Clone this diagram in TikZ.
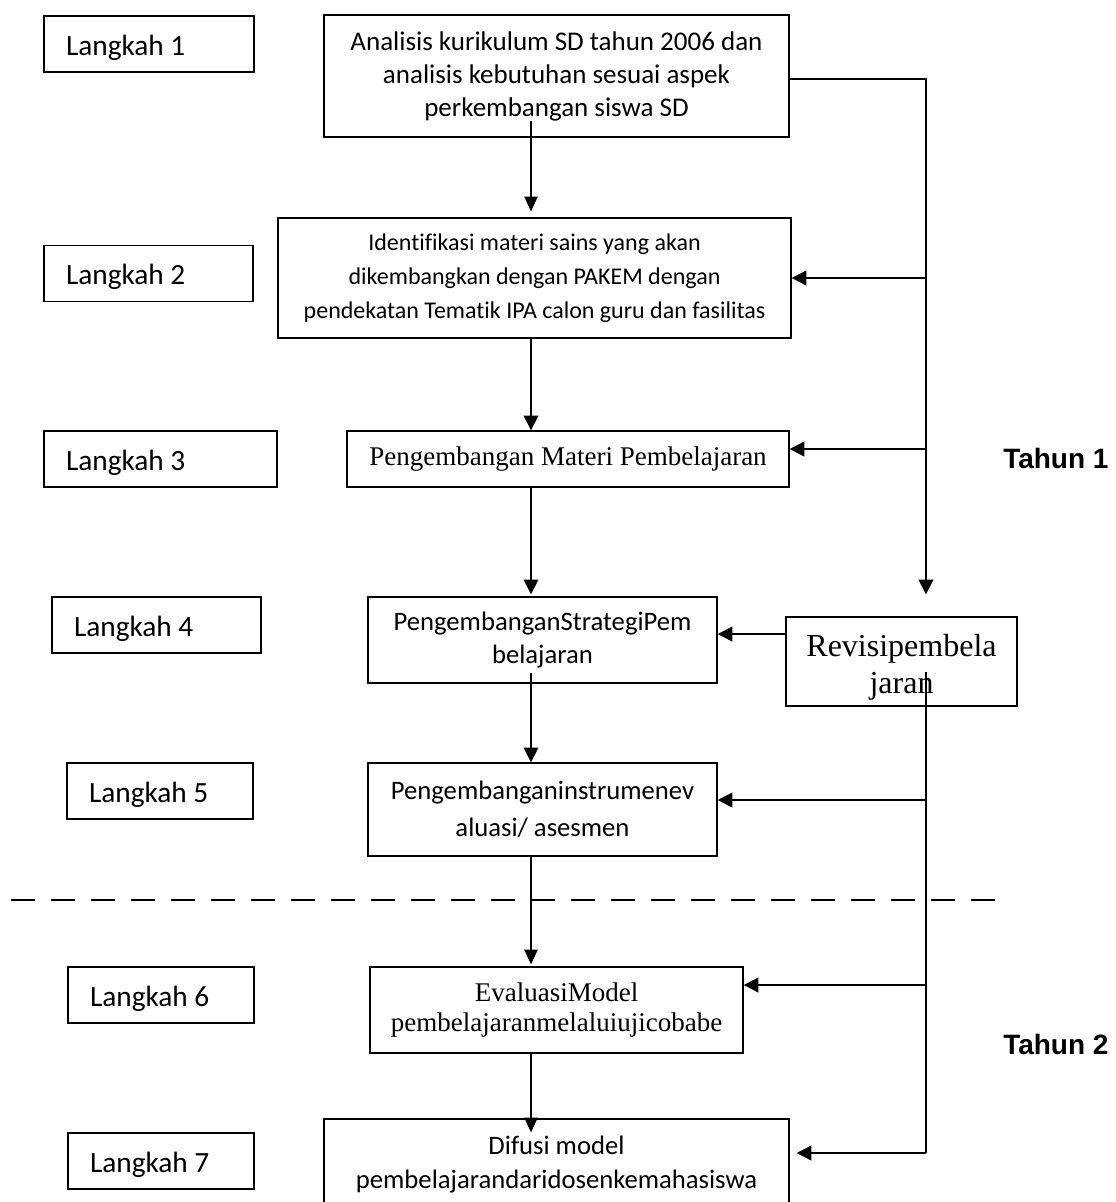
\documentclass[tikz,border=0pt]{standalone}
\usepackage{fontspec}
\setmainfont{Carlito}[Ligatures=NoCommon]
\newfontfamily\tnr{Liberation Serif}
\newfontfamily\arl{Liberation Sans}
\usetikzlibrary{arrows.meta}
\begin{document}
\begin{tikzpicture}[x=0.75pt,y=-0.75pt,
  box/.style={draw,line width=1pt,inner sep=0pt,align=center},
  lbox/.style={draw,line width=1pt,inner sep=0pt,align=flush left,minimum height=42pt,
    font=\fontsize{22}{25}\selectfont,text height=17.2pt,text depth=0pt},
  tahun/.style={font=\arl\bfseries\fontsize{21}{25}\selectfont,anchor=west,inner sep=0pt},
  arr/.style={line width=1.1pt,-{Triangle[length=11pt,width=11pt]}},
  harr/.style={line width=1.5pt,-{Triangle[length=11pt,width=11pt]}},
  thinarr/.style={line width=0.8pt,-{Triangle[length=11pt,width=10pt]}},
  plain/.style={line width=1.1pt},
  dashline/.style={line width=2.2pt,dash pattern=on 18pt off 12pt}]
\useasboundingbox (0,0) rectangle (1116,1202);

% step labels
\node[lbox,minimum width=157.5pt,text width=124.5pt] (L1) at (149,44) {Langkah 1};
\node[lbox,minimum width=156.75pt,text width=123.75pt] (L2) at (148.5,273.5) {Langkah 2};
\node[lbox,minimum width=174.75pt,text width=141.75pt] (L3) at (160.5,459) {Langkah 3};
\node[lbox,minimum width=156.75pt,text width=123.75pt] (L4) at (156.5,625) {Langkah 4};
\node[lbox,minimum width=139.5pt,text width=106.5pt] (L5) at (160,791) {Langkah 5};
\node[lbox,minimum width=139.5pt,text width=106.5pt] (L6) at (161,995) {Langkah 6};
\node[lbox,minimum width=139.5pt,text width=106.5pt] (L7) at (161,1161) {Langkah 7};

% main boxes
\node[box,font=\fontsize{20.25}{24.75}\selectfont,minimum width=348.75pt,minimum height=91.5pt] (b1) at (556.5,76)
  {Analisis kurikulum SD tahun 2006 dan\\analisis kebutuhan sesuai aspek\\perkembangan siswa SD};
\node[box,font=\fontsize{18}{25.5}\selectfont,minimum width=384.75pt,minimum height=90pt] (b2) at (534.5,278)
  {Identifikasi materi sains yang akan\\dikembangkan dengan PAKEM dengan\\pendekatan Tematik IPA calon guru dan fasilitas};
\node[box,font=\tnr\fontsize{20.25}{24.75}\selectfont,minimum width=331.5pt,minimum height=42pt] (b3) at (568,459)
  {Pengembangan Materi Pembelajaran};
\node[box,font=\fontsize{20}{24.75}\selectfont,minimum width=261.75pt,minimum height=64.5pt] (b4) at (542.5,640)
  {PengembanganStrategiPem\\belajaran};
\node[box,font=\fontsize{20}{27.75}\selectfont,minimum width=261.75pt,minimum height=69.75pt] (b5) at (542.5,809.5)
  {Pengembanganinstrumenev\\aluasi/ asesmen};
\node[box,font=\tnr\fontsize{20.25}{22.5}\selectfont,minimum width=279.75pt,minimum height=64.5pt] (b6) at (556.5,1010)
  {EvaluasiModel\\pembelajaranmelaluiujicobabe};
\node[box,font=\fontsize{20}{25.5}\selectfont,minimum width=348.75pt,minimum height=69pt] (b7) at (556.5,1165)
  {Difusi model\\pembelajarandaridosenkemahasiswa};
\node[box,minimum width=173.25pt,minimum height=66.75pt] (rv) at (901.5,661.5) {};
\node[align=center,inner sep=0pt,font=\tnr\fontsize{24}{27.75}\selectfont] (rvt) at (901.5,667)
  {Revisipembela\\jaran};

% year labels
\node[tahun] (th1) at (1003,458) {Tahun 1};
\node[tahun] (th2) at (1003,1044) {Tahun 2};

% guide coordinates
\coordinate (T) at (531,0);
\coordinate (R) at (926,0);
\coordinate (d1) at (11,900);
\coordinate (d2) at (1004,900);

% dashed separator
\draw[dashline] (d1) -- (d2);

% main trunk
\draw[thinarr] ([yshift=12.75pt]T |- b1.south) -- ([yshift=4.5pt]T |- b2.north);
\draw[arr] (T |- b2.south) -- (T |- b3.north);
\draw[arr] (T |- b3.south) -- ([yshift=1.5pt]T |- b4.north);
\draw[arr] ([yshift=8.25pt]T |- b4.south) -- (T |- b5.north);
\draw[thinarr] (T |- b5.south) -- ([yshift=1.5pt]T |- b6.north);
\draw[thinarr] (T |- b6.south) -- ([yshift=-10.5pt]T |- b7.north);

% feedback loop
\draw[arr] ([yshift=-2.25pt]b1.east) -| ([yshift=16.5pt]R |- rv.north);
\draw[harr] (R |- b2.east) -- (b2.east);
\draw[harr] ([yshift=7.5pt]R |- b3.east) -- ([yshift=7.5pt]b3.east);
\draw[harr] ([yshift=20.6pt]rv.west) -- ([yshift=20.6pt]rv.west -| b4.east);
\draw[plain] ([yshift=-7.9pt]R |- rv.center) -- ([yshift=9pt]R |- b7.east);
\draw[harr] ([yshift=7.1pt]R |- b5.east) -- ([yshift=7.1pt]b5.east);
\draw[harr] ([yshift=18.75pt]R |- b6.east) -- ([yshift=18.75pt]b6.east);
\draw[harr,shorten >=5.25pt] ([yshift=9pt]R |- b7.east) -- ([yshift=9pt]b7.east);
\end{tikzpicture}
\end{document}
